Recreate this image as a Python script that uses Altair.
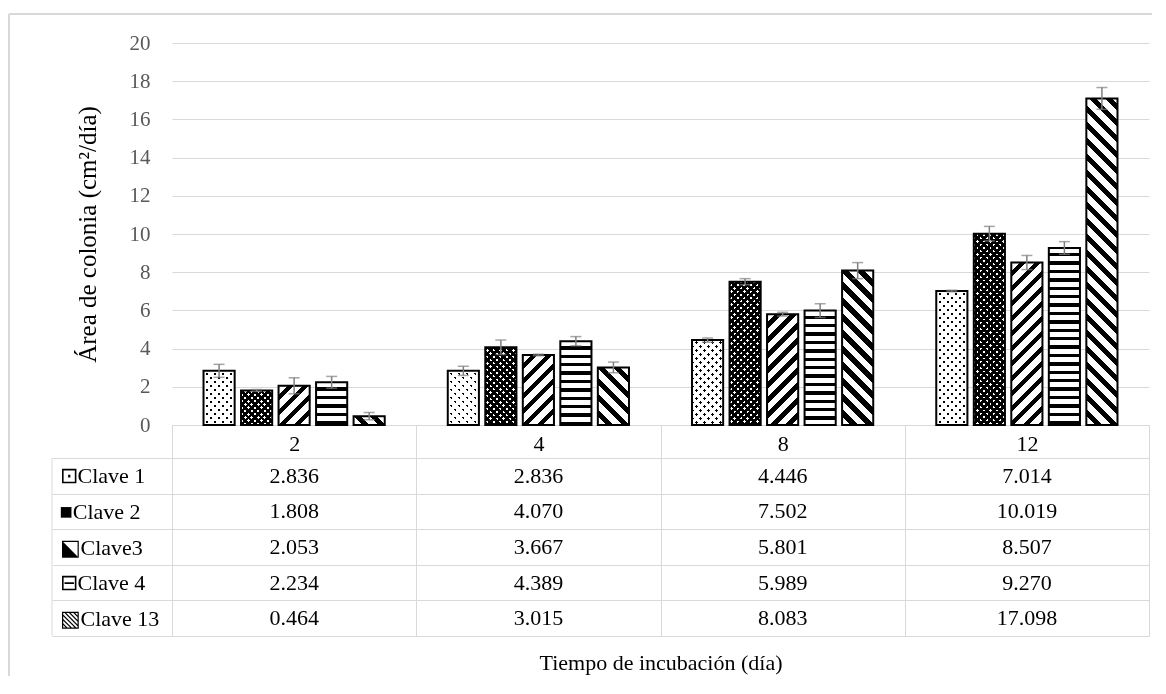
import math
import altair as alt
import pandas as pd

# ---------------- data ----------------
tiempos = ["2", "4", "8", "12"]
claves = ["Clave 1", "Clave 2", "Clave3", "Clave 4", "Clave 13"]
etiquetas = ["⊡Clave 1", "■Clave 2", "⬕Clave3", "⊟Clave 4", "▧Clave 13"]

clave1 = [2.836, 2.836, 4.446, 7.014]
clave2 = [1.808, 4.070, 7.502, 10.019]
clave3 = [2.053, 3.667, 5.801, 8.507]
clave4 = [2.234, 4.389, 5.989, 9.270]
clave13 = [0.464, 3.015, 8.083, 17.098]

err1 = [0.34, 0.24, 0.11, 0.04]
err2 = [0.05, 0.38, 0.16, 0.38]
err3 = [0.42, 0.04, 0.10, 0.37]
err4 = [0.31, 0.24, 0.36, 0.33]
err13 = [0.19, 0.28, 0.42, 0.57]

valores = [clave1, clave2, clave3, clave4, clave13]
errores = [err1, err2, err3, err4, err13]

rows = []
for c, lab, vals, errs in zip(claves, etiquetas, valores, errores):
    for t, v, e in zip(tiempos, vals, errs):
        rows.append({"clave": c, "etiqueta": lab, "tiempo": t, "valor": v, "err": e})
df = pd.DataFrame(rows)

# ---------------- style ----------------
FONT = "Liberation Serif"
GRID = "#d9d9d9"
W = 977
H_TOP = 382
H_TAB = 178
YMAX = 20
PAD_IN = 0.17
PAD_OUT = 0.84
band = W / len(tiempos)
step = band / (len(claves) - PAD_IN + 2 * PAD_OUT)
BW = step * (1 - PAD_IN)


def stops(L, period, frac, bg, fg):
    out = []
    s = 0.0
    while s < L:
        a = s + period * (1 - frac)
        b = s + period
        for pos, col in ((s, bg), (a, bg), (a, fg), (b, fg)):
            o = min(max(pos / L, 0.0), 1.0)
            out.append(alt.GradientStop(offset=round(o, 5), color=col))
        s = b
    return out


def gradient(kind, w, h, period, frac, bg, fg):
    if kind == "h":
        return alt.LinearGradient(gradient="linear", stops=stops(h, period, frac, bg, fg),
                                  x1=0, y1=0, x2=0, y2=1)
    k = (w + h) / (w * w + h * h)
    if kind == "up":  # "/" stripes
        return alt.LinearGradient(gradient="linear", stops=stops(w + h, period, frac, bg, fg),
                                  x1=0, y1=0, x2=w * k, y2=h * k)
    # "\" stripes
    return alt.LinearGradient(gradient="linear", stops=stops(w + h, period, frac, bg, fg),
                              x1=0, y1=1, x2=w * k, y2=1 - h * k)


# pattern layers for each series: (kind, period, frac, bg, fg, blend)
patrones = {
    "Clave 1": [("up", 8.0, 0.33, "white", "black", None), ("down", 8.0, 0.33, "white", "black", "lighten")],
    "Clave 2": [("up", 6.5, 0.42, "black", "white", None), ("down", 6.5, 0.42, "black", "white", "darken")],
    "Clave3": [("up", 15.0, 0.42, "white", "black", None)],
    "Clave 4": [("h", 8.4, 0.40, "white", "black", None)],
    "Clave 13": [("down", 16.0, 0.45, "white", "black", None)],
}

# ---------------- top chart (bars) ----------------
xaxis_top = alt.Axis(title=None, labelAngle=0, labelFont=FONT, labelFontSize=22, labelColor="black",
                     domainColor=GRID, tickColor=GRID, tickSize=33, tickBand="extent",
                     labelPadding=-15, labelBaseline="middle", grid=False)
yaxis_top = alt.Axis(title="Área de colonia (cm²/día)", values=list(range(0, 21, 2)), grid=True,
                     gridColor=GRID, ticks=False, domain=False, labelFont=FONT, labelFontSize=21,
                     labelColor="#595959", labelPadding=22, titleFont=FONT, titleFontSize=25,
                     titleFontWeight="normal", titleColor="black", titleX=-85, titleBaseline="middle")

xenc = alt.X("tiempo:N", scale=alt.Scale(domain=tiempos, paddingInner=0, paddingOuter=0), axis=xaxis_top)
xoff = alt.XOffset("clave:N", scale=alt.Scale(domain=claves, paddingInner=PAD_IN, paddingOuter=PAD_OUT))
yscale = alt.Scale(domain=[0, YMAX], nice=False)

base = alt.Chart(df).encode(x=xenc, xOffset=xoff, y=alt.Y("valor:Q", scale=yscale, axis=yaxis_top))

layers = []
for c, vals in zip(claves, valores):
    for t, v in zip(tiempos, vals):
        h = v * H_TOP / YMAX
        for kind, period, frac, bg, fg, blend in patrones[c]:
            kw = dict(fill=gradient(kind, BW, h, period, frac, bg, fg), strokeWidth=0)
            if blend:
                kw["blend"] = blend
            layers.append(base.transform_filter((alt.datum.clave == c) & (alt.datum.tiempo == t))
                          .mark_bar(**kw))

outline = base.mark_bar(fill="transparent", stroke="black", strokeWidth=2)

err_base = alt.Chart(df).transform_calculate(lo="datum.valor - datum.err", hi="datum.valor + datum.err")
err_rule = err_base.mark_rule(color="#7f7f7f", strokeWidth=1.5).encode(
    x=xenc, xOffset=xoff, y=alt.Y("lo:Q", scale=yscale, axis=yaxis_top), y2="hi:Q")
cap_hi = err_base.mark_tick(color="#7f7f7f", thickness=1.5, size=11).encode(
    x=xenc, xOffset=xoff, y=alt.Y("hi:Q", scale=yscale, axis=yaxis_top))
cap_lo = err_base.mark_tick(color="#7f7f7f", thickness=1.5, size=11).encode(
    x=xenc, xOffset=xoff, y=alt.Y("lo:Q", scale=yscale, axis=yaxis_top))

one = pd.DataFrame({"a": [0]})
frame_left = alt.Chart(one).mark_rule(color=GRID, strokeWidth=2).encode(
    x=alt.value(-163), y=alt.value(-29), y2=alt.value(633))
frame_top = alt.Chart(one).mark_rule(color=GRID, strokeWidth=2).encode(
    x=alt.value(-163), x2=alt.value(980), y=alt.value(-29))

top = alt.layer(*layers, outline, err_rule, cap_hi, cap_lo, frame_left, frame_top).properties(
    width=W, height=H_TOP)

# ---------------- bottom chart (data table) ----------------
xaxis_bot = alt.Axis(title="Tiempo de incubación (día)", labels=False, ticks=False, domain=False,
                     grid=True, gridColor=GRID, tickBand="extent", titleFont=FONT, titleFontSize=22,
                     titleFontWeight="normal", titleColor="black", titlePadding=16)
yaxis_bot = alt.Axis(title=None, grid=True, gridColor=GRID, ticks=True, tickSize=120, tickColor=GRID,
                     tickBand="extent", domain=False, labelAlign="left", labelPadding=-7,
                     labelFont=FONT, labelFontSize=22, labelColor="black", labelLimit=0)

tabla = alt.Chart(df).mark_text(font=FONT, fontSize=22, color="black", baseline="middle",
                                align="center").encode(
    x=alt.X("tiempo:N", scale=alt.Scale(domain=tiempos, paddingInner=0, paddingOuter=0), axis=xaxis_bot),
    y=alt.Y("etiqueta:N", scale=alt.Scale(domain=etiquetas, paddingInner=0, paddingOuter=0), axis=yaxis_bot),
    text=alt.Text("valor:Q", format=".3f"),
)
borde = alt.Chart(one).mark_rule(color=GRID, strokeWidth=1).encode(
    x=alt.value(-120), y=alt.value(0), y2=alt.value(H_TAB))

bottom = alt.layer(tabla, borde).properties(width=W, height=H_TAB)

chart = alt.vconcat(top, bottom, spacing=33, bounds="flush").properties(
    padding={"left": 0, "top": 5, "right": 0, "bottom": 0},
    background="white",
).configure_view(strokeWidth=0)

chart.save("out.html", embed_options={"renderer": "svg", "actions": False})
